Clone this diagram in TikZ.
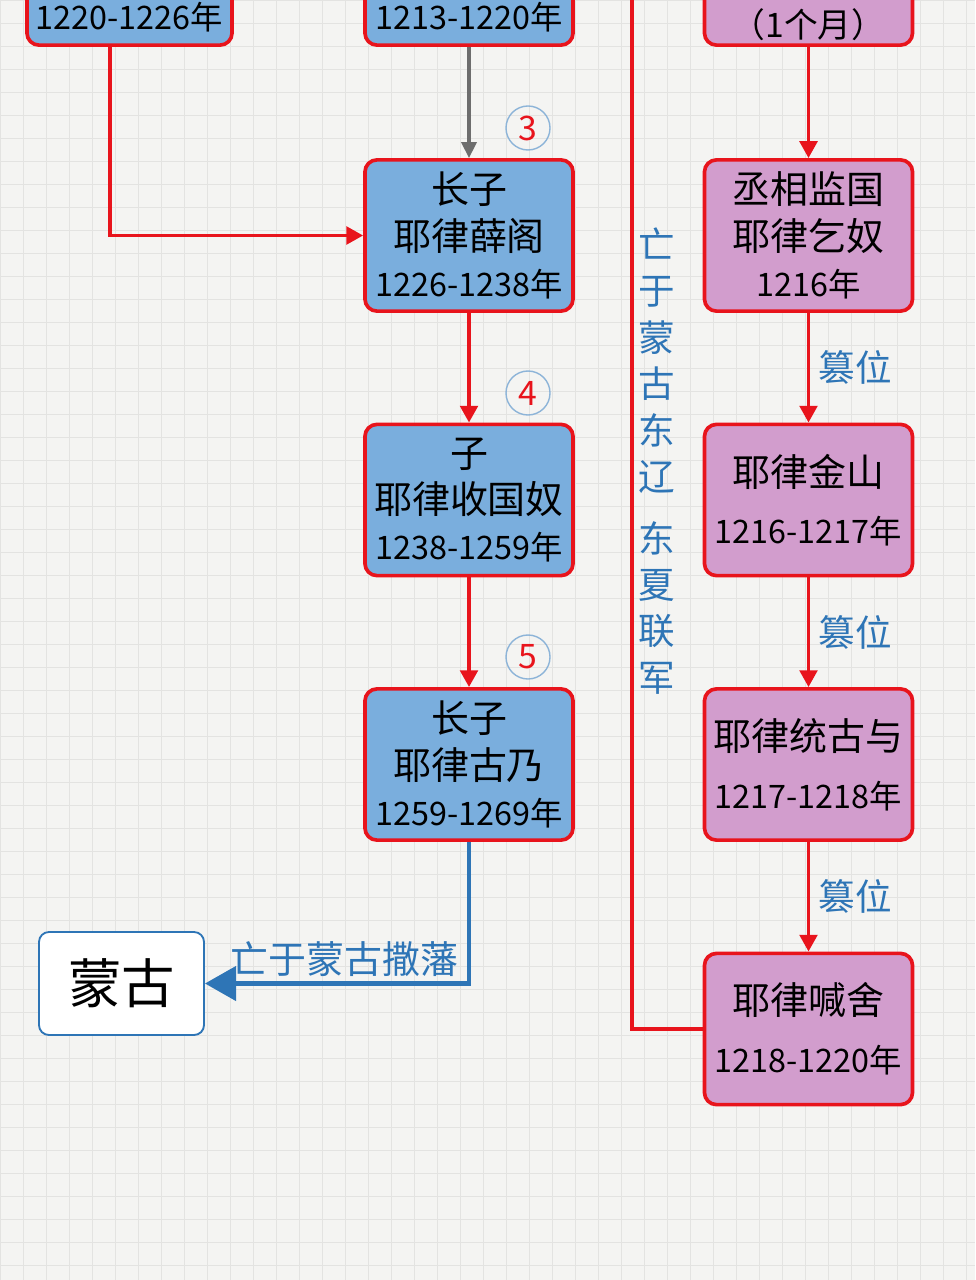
\documentclass[tikz,border=0pt]{standalone}
\usepackage{fontspec}
\setmainfont{Noto Sans CJK SC}
\usetikzlibrary{arrows.meta}

\definecolor{paper}{HTML}{F4F4F2}
\definecolor{gridgray}{HTML}{E3E3E1}
\definecolor{boxblue}{HTML}{7AAEDD}
\definecolor{boxpurple}{HTML}{D29DCD}
\definecolor{linered}{HTML}{E8141C}
\definecolor{noteblue}{HTML}{2E75B6}
\definecolor{circblue}{HTML}{8DB4D8}
\definecolor{arrowgray}{HTML}{6D6D6D}

\newcommand\namefont{\fontsize{27}{33}\selectfont}
\newcommand\yearfont{\fontsize{23}{33}\selectfont}

\begin{document}
\begin{tikzpicture}[x=0.025cm,y=-0.025cm]

\tikzset{bluebox/.style={rectangle,rounded corners=0.3cm,draw=linered,line width=2.6pt,fill=boxblue,minimum width=5.2cm,minimum height=3.78cm,inner sep=0pt,align=center,text=black,font=\namefont},}
\tikzset{purplebox/.style={bluebox,fill=boxpurple},}
\tikzset{numcircle/.style={circle,draw=circblue,line width=1pt,minimum size=1.1cm,inner sep=0pt,text=linered,font=\fontsize{24}{24}\selectfont},}
\tikzset{notetext/.style={text=noteblue,font=\fontsize{26}{30}\selectfont,inner sep=2pt},}
\tikzset{redarrow/.style={-{Triangle[length=0.42cm,width=0.44cm]},draw=linered,line width=2.6pt},}

  \useasboundingbox (0,0) rectangle (975,1280);
  \clip (0,0) rectangle (975,1280);
  \fill[paper] (0,0) rectangle (975,1280);
  \draw[gridgray,line width=0.6pt] (0,0) grid[step=0.575cm] (975,1280);

  % left column
  \draw (129.5,-30.5) node[bluebox,minimum width=5.125cm](r1) {};
  \draw (129.5,17) node[font=\yearfont] {1220-1226年};
  \draw (469,-30.5) node[bluebox](r2) {};
  \draw (469,17) node[font=\yearfont] {1213-1220年};
  \draw (469,235.5) node[bluebox](kw3) {长子\\耶律薛阁\\\yearfont 1226-1238年};
  \draw (469,500) node[bluebox](kw4) {子\\耶律收国奴\\\yearfont 1238-1259年};
  \draw (469,764.5) node[bluebox](kw5) {长子\\耶律古乃\\\yearfont 1259-1269年};
  \draw (121.5,983.5) node[rectangle,rounded corners=0.25cm,draw=noteblue,line width=1.3pt,fill=white,minimum width=4.125cm,minimum height=2.575cm,font=\fontsize{38}{40}\selectfont](menggu) {蒙古};

  \draw (528,128) node[numcircle](c3) {3};
  \draw (528,393) node[numcircle](c4) {4};
  \draw (528,657) node[numcircle](c5) {5};

  % right column
  \draw (808.5,-30.5) node[purplebox](p0) {};
  \draw (808.5,25) node[font=\fontsize{24}{28}\selectfont] {（1个月）};
  \draw (808.5,235.5) node[purplebox](p1) {丞相监国\\耶律乞奴\\\yearfont 1216年};
  \draw (808.5,500) node[purplebox](p2) {耶律金山\\[8pt]\yearfont 1216-1217年};
  \draw (808.5,764.5) node[purplebox](p3) {耶律统古与\\[8pt]\yearfont 1217-1218年};
  \draw (808.5,1029) node[purplebox](p4) {耶律喊舍\\[8pt]\yearfont 1218-1220年};

  \coordinate (topend) at (632,-5);
  \draw (657,461) node[notetext,align=center,font=\fontsize{26}{33}\selectfont](deathnote) {亡\\于\\蒙\\古\\东\\辽\\[0.38cm]东\\夏\\联\\军};

  % edges, left column
  \draw[-{Triangle[length=0.4cm,width=0.38cm]},arrowgray,line width=2.2pt] (r2) -- (kw3);
  \draw[redarrow] ([xshift=-0.49cm]r1.south) |- (kw3.west);
  \draw[redarrow] (kw3) -- (kw4);
  \draw[redarrow] (kw4) -- (kw5);
  \draw[-{Triangle[length=0.78cm,width=0.85cm]},noteblue,line width=3.4pt] (kw5.south) |- node[pos=0.735,notetext,above=1pt,font=\fontsize{27}{30}\selectfont] {亡于蒙古撒藩} (menggu.east);

  % edges, right column
  \draw[redarrow] (p0) -- (p1);
  \draw[redarrow] (p1) -- node[notetext,right=4pt] {篡位} (p2);
  \draw[redarrow] (p2) -- node[notetext,right=4pt] {篡位} (p3);
  \draw[redarrow] (p3) -- node[notetext,right=4pt] {篡位} (p4);
  \draw[linered,line width=2.6pt] (p4.west) -| (topend);

\end{tikzpicture}
\end{document}
